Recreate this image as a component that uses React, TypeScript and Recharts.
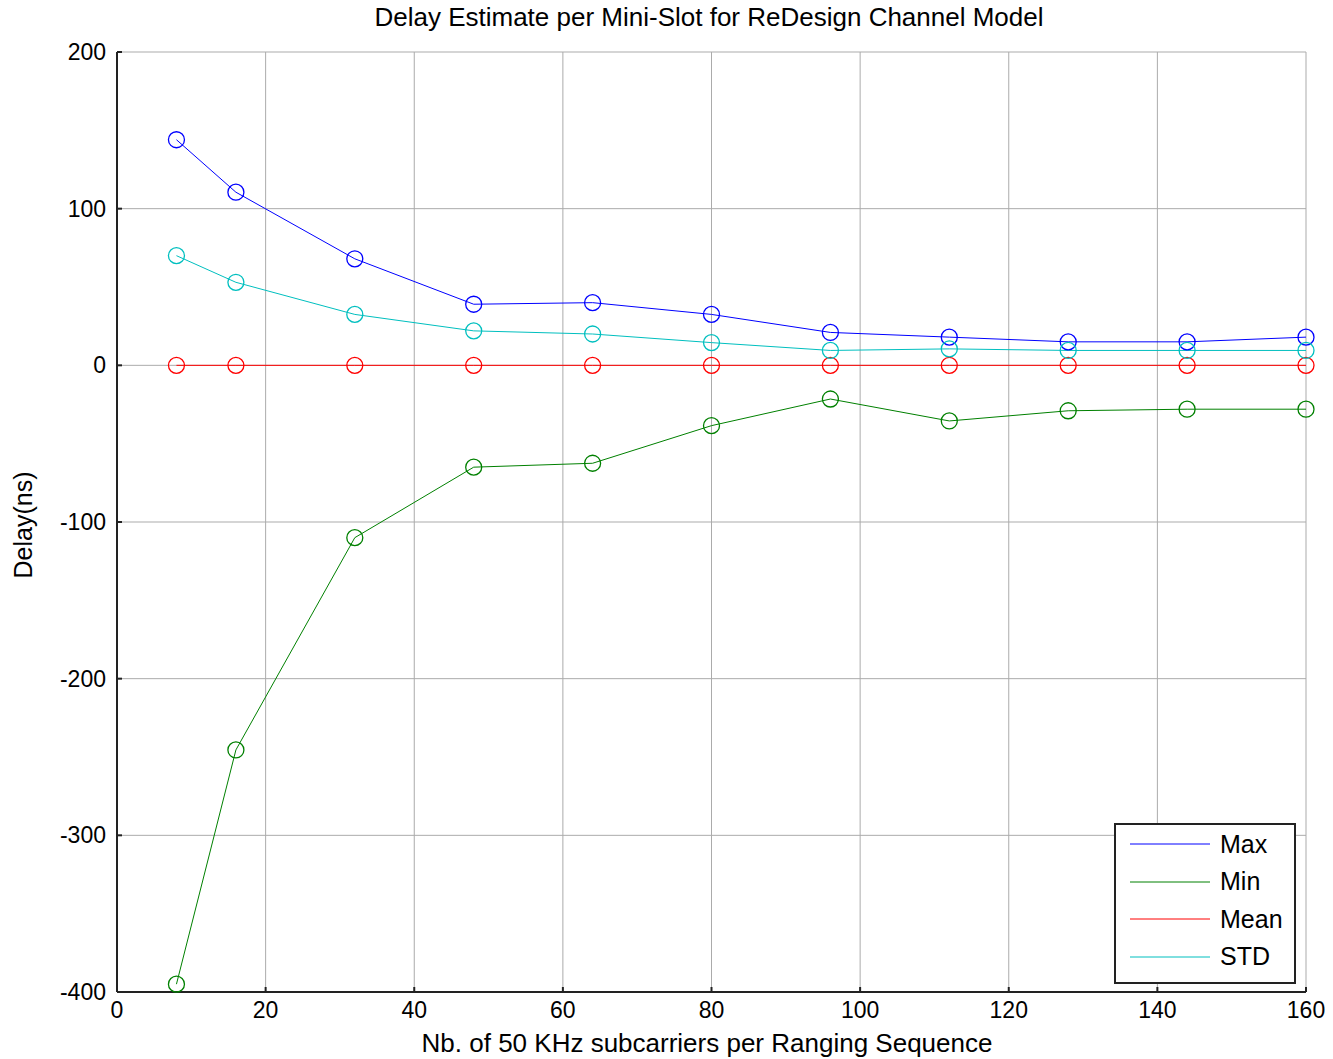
import React from "react";
import {
  LineChart,
  Line,
  XAxis,
  YAxis,
  CartesianGrid,
} from "recharts";

const subcarriers = [8, 16, 32, 48, 64, 80, 96, 112, 128, 144, 160];
const maxDelay = [144, 110.5, 68, 39, 40, 32.5, 21, 18, 15, 15, 18];
const minDelay = [-395, -245.5, -110, -65, -62.5, -38.5, -21.5, -35.5, -29, -28, -28];
const meanDelay = [0, 0, 0, 0, 0, 0, 0, 0, 0, 0, 0];
const stdDelay = [70, 53, 32.5, 22, 20, 14.5, 9.5, 10.5, 9.5, 9.5, 9.5];

const xTicks = [0, 20, 40, 60, 80, 100, 120, 140, 160];
const yTicks = [-400, -300, -200, -100, 0, 100, 200];

const series = [
  { key: "max", name: "Max", color: "#0000ff" },
  { key: "min", name: "Min", color: "#008000" },
  { key: "mean", name: "Mean", color: "#ff0000" },
  { key: "std", name: "STD", color: "#00bfbf" },
];

const data = subcarriers.map((n, i) => ({
  n,
  max: maxDelay[i],
  min: minDelay[i],
  mean: meanDelay[i],
  std: stdDelay[i],
}));

const font = "'Liberation Sans', Arial, Helvetica, sans-serif";
const axisColor = "#222";

export default function App() {
  return (
    <div
      style={{
        position: "absolute",
        left: 0,
        top: 0,
        width: 1333,
        height: 1059,
        background: "#fff",
        fontFamily: font,
      }}
    >
      <LineChart
        width={1333}
        height={1059}
        data={data}
        margin={{ top: 52, right: 27, left: 0, bottom: 0 }}
      >
        <CartesianGrid stroke="#ababab" strokeWidth={1} />
        <XAxis
          dataKey="n"
          type="number"
          domain={[0, 160]}
          ticks={xTicks}
          height={67}
          stroke={axisColor}
          axisLine={{ stroke: axisColor, strokeWidth: 2 }}
          tickLine={{ stroke: axisColor, strokeWidth: 2 }}
          tickSize={-5}
          tickMargin={15}
          tick={{ fill: "#000", fontSize: 23, fontFamily: font }}
        />
        <XAxis
          xAxisId="top"
          dataKey="n"
          type="number"
          domain={[0, 160]}
          ticks={xTicks}
          orientation="top"
          height={0}
          axisLine={{ stroke: axisColor, strokeWidth: 2 }}
          tickLine={{ stroke: axisColor, strokeWidth: 2 }}
          tickSize={-5}
          tick={false}
        />
        <YAxis
          type="number"
          domain={[-400, 200]}
          ticks={yTicks}
          width={117}
          axisLine={{ stroke: axisColor, strokeWidth: 2 }}
          tickLine={{ stroke: axisColor, strokeWidth: 2 }}
          tickSize={-5}
          tickMargin={16}
          tick={{ fill: "#000", fontSize: 23, fontFamily: font }}
        />
        <YAxis
          yAxisId="right"
          type="number"
          domain={[-400, 200]}
          ticks={yTicks}
          orientation="right"
          width={0}
          axisLine={{ stroke: axisColor, strokeWidth: 2 }}
          tickLine={{ stroke: axisColor, strokeWidth: 2 }}
          tickSize={-5}
          tick={false}
        />
        {series.map((s) => (
          <Line
            key={s.key}
            dataKey={s.key}
            name={s.name}
            type="linear"
            stroke={s.color}
            strokeWidth={1}
            dot={{ r: 8, stroke: s.color, strokeWidth: 1.3, fill: "none" }}
            activeDot={false}
            isAnimationActive={false}
          />
        ))}
      </LineChart>

      <div
        style={{
          position: "absolute",
          left: 0,
          width: 1418,
          top: 2,
          textAlign: "center",
          fontSize: 26,
          color: "#000",
          whiteSpace: "nowrap",
        }}
      >
        Delay Estimate per Mini-Slot for ReDesign Channel Model
      </div>
      <div
        style={{
          position: "absolute",
          left: 0,
          width: 1414,
          top: 1028,
          textAlign: "center",
          fontSize: 26,
          color: "#000",
          whiteSpace: "nowrap",
        }}
      >
        Nb. of 50 KHz subcarriers per Ranging Sequence
      </div>
      <div
        style={{
          position: "absolute",
          left: 23,
          top: 525,
          transform: "translate(-50%, -50%) rotate(-90deg)",
          fontSize: 25,
          color: "#000",
          whiteSpace: "nowrap",
        }}
      >
        Delay(ns)
      </div>

      <div
        style={{
          position: "absolute",
          left: 1114,
          top: 823,
          width: 178,
          height: 157,
          border: "2px solid #222",
          background: "#fff",
        }}
      >
        {series.map((s, i) => (
          <div
            key={s.key}
            style={{
              position: "absolute",
              left: 14,
              top: 5 + i * 37.5,
              height: 28,
              display: "flex",
              alignItems: "center",
            }}
          >
            <svg width={82} height={4} style={{ display: "block" }}>
              <line x1={0} y1={2} x2={80} y2={2} stroke={s.color} strokeWidth={1} />
            </svg>
            <span style={{ marginLeft: 8, fontSize: 25, color: "#000" }}>{s.name}</span>
          </div>
        ))}
      </div>
    </div>
  );
}
